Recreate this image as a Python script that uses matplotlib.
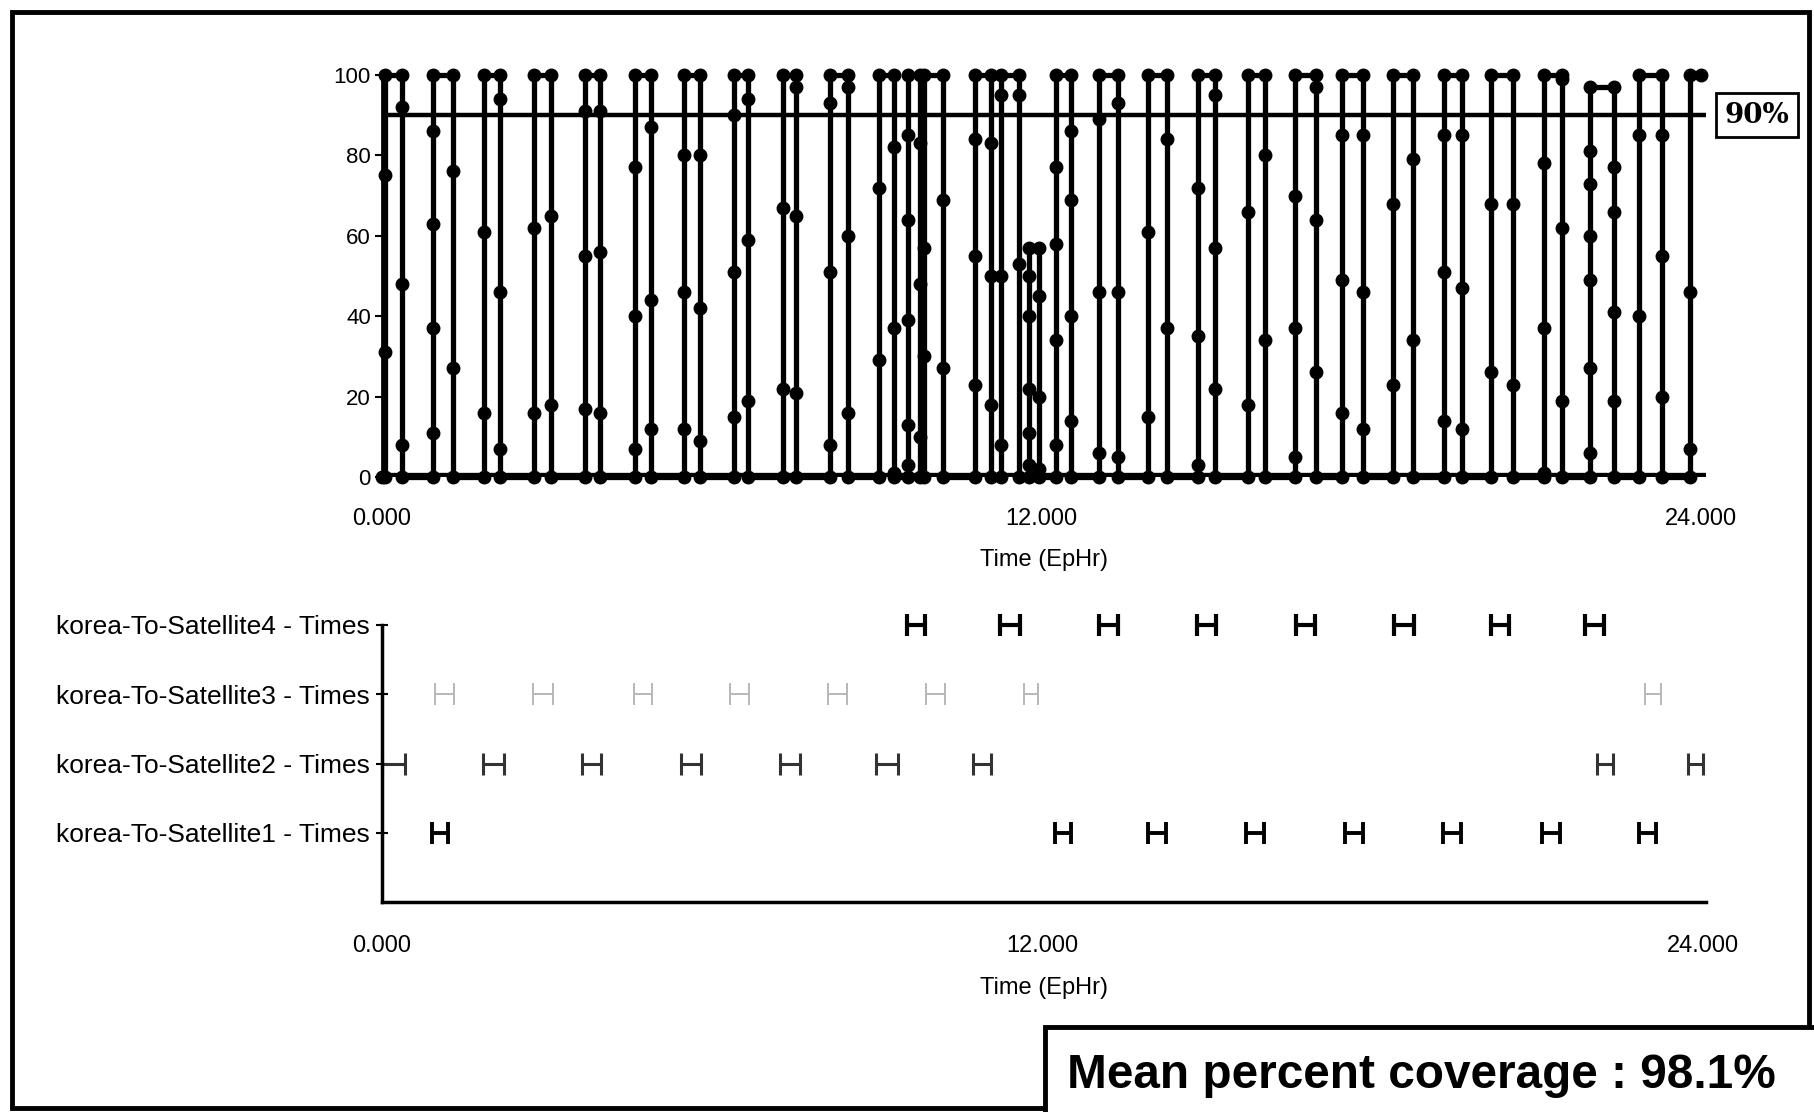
import matplotlib
matplotlib.use("Agg")
import matplotlib.pyplot as plt
from matplotlib.patches import Rectangle

plt.rcParams['font.family'] = ['Liberation Sans', 'DejaVu Sans']

# ---- top chart: percent coverage pulses (hours, percent) ----
pulse_start = [0.06, 0.93, 1.86, 2.76, 3.69, 4.60, 5.50, 6.41, 7.30, 8.16,
               9.05, 9.57, 9.87, 10.80, 11.26, 11.77, 12.27, 13.05, 13.94, 14.85,
               15.77, 16.62, 17.48, 18.41, 19.34, 20.18, 21.15, 21.99, 22.88, 23.81]
pulse_end = [0.36, 1.29, 2.15, 3.08, 3.96, 4.89, 5.78, 6.66, 7.53, 8.48,
             9.32, 9.80, 10.22, 11.09, 11.60, 11.96, 12.55, 13.39, 14.28, 15.16,
             16.07, 17.00, 17.86, 18.77, 19.65, 20.58, 21.47, 22.42, 23.30, 24.00]
pulse_peak = [100, 100, 100, 100, 100, 100, 100, 100, 100, 100,
              100, 100, 100, 100, 100, 57, 100, 100, 100, 100,
              100, 100, 100, 100, 100, 100, 100, 97, 100, 100]
rise_vals = [[31, 75], [11, 37, 63, 86], [16, 61], [16, 62], [17, 55, 91],
             [7, 40, 77], [12, 46, 80], [15, 51, 90], [22, 67], [8, 51, 93],
             [29, 72], [3, 13, 39, 64, 85], [30, 57], [23, 55, 84], [8, 50, 95],
             [3, 11, 22, 40, 50], [8, 34, 58, 77], [6, 46, 89], [15, 61], [3, 35, 72],
             [18, 66], [5, 37, 70], [16, 49, 85], [23, 68], [14, 51, 85],
             [26, 68], [1, 37, 78], [6, 27, 49, 60, 73, 81], [40, 85], [7, 46]]
fall_vals = [[92, 48, 8], [76, 27], [94, 46, 7], [65, 18], [91, 56, 16],
             [87, 44, 12], [80, 42, 9], [94, 59, 19], [97, 65, 21], [97, 60, 16],
             [82, 37, 1], [83, 48, 10], [69, 27], [83, 50, 18], [95, 53],
             [45, 20, 2], [86, 69, 40, 14], [93, 46, 5], [84, 37], [95, 57, 22],
             [80, 34], [97, 64, 26], [85, 46, 12], [79, 34], [85, 47, 12],
             [68, 23], [99, 62, 19], [77, 66, 41, 19], [85, 55, 20], []]
threshold = 90

# ---- bottom chart: access intervals (hours) ----
row_labels = ['korea-To-Satellite1 - Times', 'korea-To-Satellite2 - Times',
              'korea-To-Satellite3 - Times', 'korea-To-Satellite4 - Times']
sat1_start = [0.90, 12.22, 13.92, 15.70, 17.50, 19.28, 21.07, 22.83]
sat1_end = [1.19, 12.51, 14.25, 16.03, 17.82, 19.60, 21.40, 23.14]
sat2_start = [0.00, 1.84, 3.63, 5.43, 7.23, 8.97, 10.73, 22.07, 23.73]
sat2_end = [0.42, 2.22, 3.98, 5.79, 7.59, 9.37, 11.07, 22.36, 24.00]
sat3_start = [0.96, 2.75, 4.57, 6.33, 8.11, 9.89, 11.67, 22.95]
sat3_end = [1.30, 3.10, 4.90, 6.67, 8.45, 10.23, 11.91, 23.24]
sat4_start = [9.54, 11.23, 13.02, 14.80, 16.60, 18.38, 20.14, 21.86]
sat4_end = [9.87, 11.59, 13.37, 15.15, 16.94, 18.74, 20.48, 22.20]

W, H = 1814, 1112
fig = plt.figure(figsize=(W / 100, H / 100), dpi=100)

def fx(px):
    return px / W

def fy(py):
    return 1 - py / H

# outer frame
fig.add_artist(Rectangle((fx(12), fy(1108)), fx(1797), (1108 - 12) / H,
                         transform=fig.transFigure, fill=False, lw=3.5, ec='black'))

# ---------------- top chart ----------------
ax1 = fig.add_axes([fx(382), fy(477), fx(1706 - 382), (477 - 75) / H])

t, v = [0.0], [0.0]
for s, e, pk, r, f in zip(pulse_start, pulse_end, pulse_peak, rise_vals, fall_vals):
    t += [s] * (len(r) + 2)
    v += [0] + r + [pk]
    if f:
        t += [e] * (len(f) + 2)
        v += [pk] + f + [0]
    else:
        t.append(e)
        v.append(pk)

ax1.axhline(0, color='black', lw=6, zorder=1)
ax1.plot(t, v, color='black', lw=3.8, marker='o', ms=9, clip_on=False, zorder=3)
ax1.axhline(threshold, color='black', lw=3.2, zorder=2)
ax1.text(1.014, threshold / 100, '90%', transform=ax1.transAxes,
         ha='left', va='center', fontsize=20, fontweight='bold', family='DejaVu Serif',
         bbox=dict(boxstyle='square,pad=0.3', fc='white', ec='black', lw=2))

ax1.set_xlim(0, 24.1)
ax1.set_ylim(0, 100)
ax1.set_xticks([0, 12, 24])
ax1.set_xticklabels(['0.000', '12.000', '24.000'])
ax1.set_yticks([0, 20, 40, 60, 80, 100])
ax1.tick_params(axis='x', length=0, pad=22, labelsize=17)
ax1.tick_params(axis='y', length=5, width=1.5, labelsize=16, pad=3)
for side in ['top', 'right', 'bottom']:
    ax1.spines[side].set_visible(False)
ax1.spines['left'].set_linewidth(2)
ax1.set_xlabel('Time (EpHr)', fontsize=17, labelpad=14)

# ---------------- bottom chart ----------------
ax2 = fig.add_axes([fx(382), fy(902), fx(1706 - 382), (902 - 625) / H])
rows = [(sat1_start, sat1_end, 'black', 2.8),
        (sat2_start, sat2_end, '#333333', 2.2),
        (sat3_start, sat3_end, '#b8b8b8', 1.4),
        (sat4_start, sat4_end, 'black', 3.0)]
for i, (st, en, col, lw) in enumerate(rows, start=1):
    mid = [(a + b) / 2 for a, b in zip(st, en)]
    half = [(b - a) / 2 for a, b in zip(st, en)]
    ax2.errorbar(mid, [i] * len(mid), xerr=half, fmt='none', ecolor=col,
                 elinewidth=lw, capsize=8, capthick=lw, clip_on=False)

ax2.set_xlim(0, 24.05)
ax2.set_ylim(0, 4)
ax2.set_yticks([1, 2, 3, 4])
ax2.set_yticklabels(row_labels)
ax2.set_xticks([0, 12, 24])
ax2.set_xticklabels(['0.000', '12.000', '24.000'])
ax2.tick_params(axis='y', direction='inout', length=9, width=1.5, labelsize=19, pad=4)
ax2.tick_params(axis='x', length=0, pad=24, labelsize=17)
for side in ['top', 'right']:
    ax2.spines[side].set_visible(False)
ax2.spines['left'].set_linewidth(2.5)
ax2.spines['bottom'].set_linewidth(2.5)
ax2.set_xlabel('Time (EpHr)', fontsize=17, labelpad=14)

# mean coverage box
fig.add_artist(Rectangle((fx(1045), fy(1140)), fx(800), (1140 - 1027) / H,
                         transform=fig.transFigure, fc='white', ec='black', lw=3.5))
mean_txt = fig.text(fx(1067), fy(1076), 'Mean percent coverage : 98.1%',
                    ha='left', va='center', fontsize=34, fontweight='bold')
# fit the label to the width it takes in the reference (about 709 px)
fig.canvas.draw()
wpx = mean_txt.get_window_extent().width
mean_txt.set_fontsize(34 * 709 / wpx)

fig.savefig('out.png', dpi=100)
